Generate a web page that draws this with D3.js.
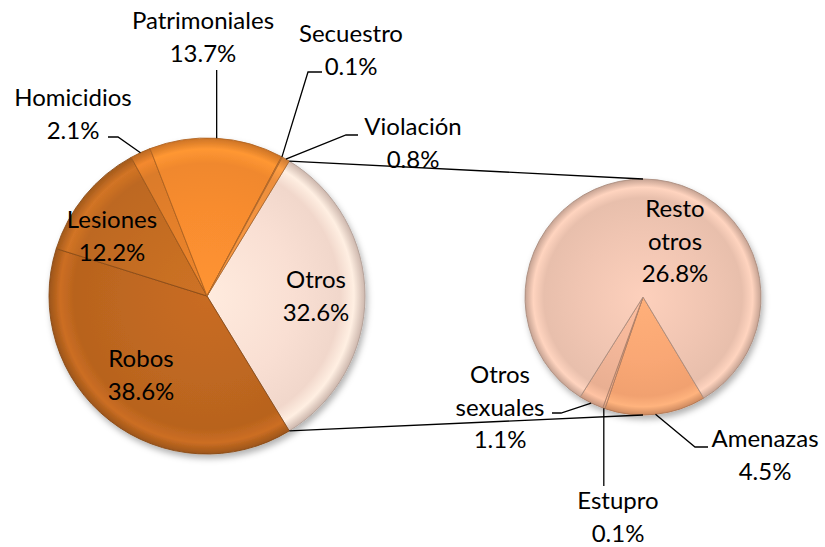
<!DOCTYPE html>
<html>
<head>
<meta charset="utf-8">
<script src="https://cdn.jsdelivr.net/npm/d3@7"></script>
<style>
    body { margin: 0; background: #ffffff; }
    #pie_of_pie text { font-family: Lato, "Open Sans", sans-serif; fill: #000; }
</style>
</head>
<body>
<div id="pie_of_pie"></div>
<script>
// Main pie data (order = clockwise, starting with "Otros")
const mainCategories = ["Otros", "Robos", "Lesiones", "Homicidios", "Patrimoniales", "Secuestro", "Violación"];
const mainValues = [32.6, 38.6, 12.2, 2.1, 13.7, 0.1, 0.8];

// Secondary pie: breakdown of "Otros"
const subCategories = ["Amenazas", "Estupro", "Otros sexuales", "Resto otros"];
const subValues = [4.5, 0.1, 1.1, 26.8];

// Colours
const sliceColors = {
    "Otros": "#f5dbcf",
    "Robos": "#bb651f",
    "Lesiones": "#c06a22",
    "Homicidios": "#df7d2a",
    "Patrimoniales": "#f48a2e",
    "Secuestro": "#f08a34",
    "Violación": "#f0913e",
    "Amenazas": "#f5a472",
    "Estupro": "#efac89",
    "Otros sexuales": "#edb295",
    "Resto otros": "#ecc2af"
};

// Label placement (centre x, first baseline) and leader lines
const labelLines = {
    "Resto otros": ["Resto", "otros"],
    "Otros sexuales": ["Otros", "sexuales"]
};
const labelPos = {
    "Otros": [316, 288],
    "Robos": [141, 367],
    "Lesiones": [112, 228],
    "Homicidios": [73, 106],
    "Patrimoniales": [203, 29],
    "Secuestro": [351, 42],
    "Violación": [413, 135],
    "Amenazas": [765, 447],
    "Estupro": [618, 509],
    "Otros sexuales": [500, 383],
    "Resto otros": [675, 217]
};
const leaders = {
    "Homicidios": { end: [108, 137], elbow: [118, 137] },
    "Patrimoniales": { endY: 70 },
    "Secuestro": { end: [322, 72], elbow: [308, 72] },
    "Violación": { end: [358, 135], elbow: [346, 135] },
    "Otros sexuales": { end: [552, 413], elbow: [561, 413] },
    "Estupro": { endY: 486 },
    "Amenazas": { end: [708, 447], elbow: [695, 447] }
};

const width = 825, height = 547;
const lineHeight = 32.5;

const mainPie = { cx: 207, cy: 296, r: 158 };
const subPie = { cx: 643, cy: 297, r: 118 };

function createSVG(width, height)
{
    const svg = d3.select("#pie_of_pie")
        .append("svg")
        .attr("width", width)
        .attr("height", height);
    return svg;
}

function polar(p, angle, r)
{
    return [p.cx + r * Math.sin(angle), p.cy - r * Math.cos(angle)];
}

const svg = createSVG(width, height);
const defs = svg.append("defs");

// Soft shadow under each pie
const shadow = defs.append("filter")
    .attr("id", "shadow")
    .attr("x", "-20%").attr("y", "-20%")
    .attr("width", "140%").attr("height", "140%");
shadow.append("feDropShadow")
    .attr("dx", 2).attr("dy", 4)
    .attr("stdDeviation", 3)
    .attr("flood-color", "#000")
    .attr("flood-opacity", 0.3);

// Radial gradient per slice to fake the bevel
function makeGradient(name, p)
{
    const base = d3.color(sliceColors[name]);
    const id = "grad-" + name.replace(/[^a-zA-Z]/g, "");
    const g = defs.append("radialGradient")
        .attr("id", id)
        .attr("gradientUnits", "userSpaceOnUse")
        .attr("cx", p.cx).attr("cy", p.cy).attr("r", p.r);
    g.append("stop").attr("offset", "0%").attr("stop-color", base.brighter(0.2));
    g.append("stop").attr("offset", "55%").attr("stop-color", base.brighter(0.05));
    g.append("stop").attr("offset", "84%").attr("stop-color", base.darker(0.05));
    g.append("stop").attr("offset", "93%").attr("stop-color", base.brighter(0.25));
    g.append("stop").attr("offset", "100%").attr("stop-color", base.darker(0.5));
    return "url(#" + id + ")";
}

function drawPie(categories, values, p, startAngle)
{
    const pie = d3.pie().sort(null).value(d => d.value)
        .startAngle(startAngle).endAngle(startAngle + 2 * Math.PI);
    const data = categories.map((c, i) => ({ name: c, value: values[i] }));
    const arcs = pie(data);
    const arc = d3.arc().innerRadius(0).outerRadius(p.r);

    const g = svg.append("g")
        .attr("transform", `translate(${p.cx},${p.cy})`)
        .attr("filter", "url(#shadow)");

    g.selectAll("path")
        .data(arcs)
        .enter().append("path")
        .attr("d", arc)
        .attr("fill", d => makeGradient(d.data.name, { cx: 0, cy: 0, r: p.r }))
        .attr("stroke", d => d3.color(sliceColors[d.data.name]).darker(0.9))
        .attr("stroke-width", 0.9)
        .attr("stroke-linejoin", "round");

    return arcs;
}

// Otros centred on the right side of the main pie
const total = d3.sum(mainValues);
const otrosAngle = mainValues[0] / total * 2 * Math.PI;
const mainArcs = drawPie(mainCategories, mainValues, mainPie, Math.PI / 2 - otrosAngle / 2);
const subArcs = drawPie(subCategories, subValues, subPie, 149 * Math.PI / 180);

// Connector lines between the two pies
const otros = mainArcs[0];
const lines = svg.append("g")
    .attr("fill", "none")
    .attr("stroke", "#000")
    .attr("stroke-width", 1.3);

[[otros.startAngle, 0], [otros.endAngle, Math.PI]].forEach(([a, b]) => {
    const p1 = polar(mainPie, a, mainPie.r);
    const p2 = polar(subPie, b, subPie.r);
    lines.append("line")
        .attr("x1", p1[0]).attr("y1", p1[1])
        .attr("x2", p2[0]).attr("y2", p2[1]);
});

// Leader lines
function drawLeaders(arcs, p)
{
    arcs.forEach(d => {
        const l = leaders[d.data.name];
        if (!l) return;
        const mid = (d.startAngle + d.endAngle) / 2;
        const a = polar(p, mid, p.r);
        var pts;
        if (l.endY !== undefined) pts = [a, [a[0], l.endY]];
        else pts = [a, l.elbow, l.end];
        lines.append("path").attr("d", d3.line()(pts));
    });
}
drawLeaders(mainArcs, mainPie);
drawLeaders(subArcs, subPie);

// Labels
function drawLabels(arcs)
{
    arcs.forEach(d => {
        const name = d.data.name;
        const pos = labelPos[name];
        const rows = (labelLines[name] || [name]).concat([d.data.value.toFixed(1) + "%"]);
        const t = svg.append("text")
            .attr("x", pos[0])
            .attr("y", pos[1])
            .attr("text-anchor", "middle")
            .style("font-size", "24px");
        rows.forEach((r, i) => {
            t.append("tspan")
                .attr("x", pos[0])
                .attr("y", pos[1] + i * lineHeight)
                .text(r);
        });
    });
}
drawLabels(mainArcs);
drawLabels(subArcs);
</script>
</body>
</html>
